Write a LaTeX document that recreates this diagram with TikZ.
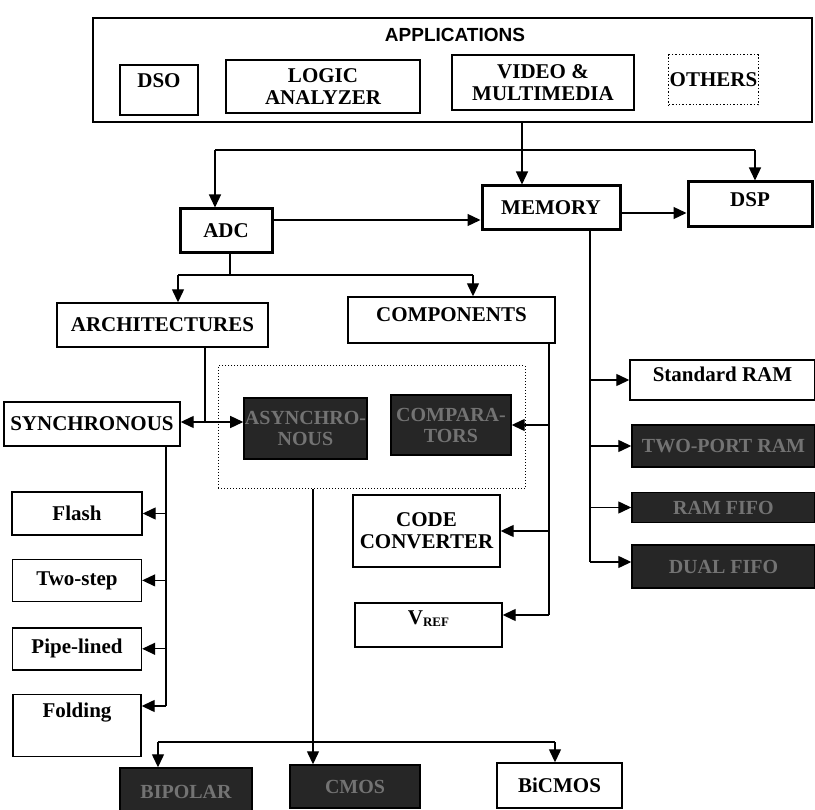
\documentclass[tikz,border=0pt]{standalone}
\usepackage{fontspec}
\setmainfont{Liberation Serif}
\newfontfamily\headfont{Liberation Sans}
\usetikzlibrary{positioning, arrows.meta}
\tikzset{
    box_style/.style={
        rectangle,            % plain box
        draw=black,
        line width=1.4pt,
        fill=white,
        align=center,
        inner sep=1pt,
        font=\bfseries\fontsize{21}{22}\selectfont
    },
    heavy_box/.style={
        box_style,
        line width=3pt        % ADC, MEMORY, DSP
    },
    dark_box/.style={
        box_style,
        fill=black!85,
        text=black!55,
        font=\bfseries\fontsize{20}{21}\selectfont
    },
    line_style/.style={
        line width=1.3pt
    },
    arrow_style/.style={
        -{Triangle[length=13pt,width=12pt]},
        line width=1.3pt
    }
}

\begin{document}
\begin{tikzpicture}[x=1pt, y=-1pt]
    \useasboundingbox (0,0) rectangle (815,810);

    % 1. applications
    \node[box_style, line width=2.5pt, minimum width=719pt, minimum height=104pt] (app) at (452.5,70) {};
    \node[font=\headfont\bfseries\fontsize{19}{21}\selectfont] (apptitle) at (455,35) {APPLICATIONS};
    \node[box_style, minimum width=78pt, minimum height=50pt, text depth=18pt] (dso) at (159,90) {DSO};
    \node[box_style, minimum width=194pt, minimum height=53pt] (logic) at (323,86.5) {LOGIC\\ANALYZER};
    \node[box_style, minimum width=182pt, minimum height=55pt] (video) at (543,82.5) {VIDEO \&\\MULTIMEDIA};
    \node[box_style, dotted, line width=1pt, minimum width=87pt, minimum height=50pt] (others) at (713.5,80) {OTHERS};

    % 2. main blocks
    \node[heavy_box, minimum width=92pt, minimum height=44pt] (adc) at (226,231) {ADC};
    \node[heavy_box, minimum width=138pt, minimum height=44pt] (mem) at (551,208) {MEMORY};
    \node[heavy_box, minimum width=124pt, minimum height=45pt, text depth=10pt] (dsp) at (750,204.5) {DSP};

    % 3. adc branches
    \node[box_style, minimum width=211pt, minimum height=44pt] (arch) at (162.5,325) {ARCHITECTURES};
    \node[box_style, minimum width=207pt, minimum height=46pt, text depth=10pt] (comp) at (451.5,320) {COMPONENTS};
    \node[box_style, minimum width=176pt, minimum height=44pt] (sync) at (92,424) {SYNCHRONOUS};
    \node[draw=black, dotted, line width=1pt, minimum width=307pt, minimum height=123pt] (grp) at (371.5,427.5) {};
    \node[dark_box, minimum width=121pt, minimum height=61pt] (async) at (305.5,428.5) {ASYNCHRO-\\NOUS};
    \node[dark_box, minimum width=120pt, minimum height=60pt] (cmpr) at (451,425) {COMPARA-\\TORS};
    \node[box_style, minimum width=147pt, minimum height=72pt] (conv) at (426.5,531) {CODE\\CONVERTER};
    \node[box_style, minimum width=147pt, minimum height=44pt, text depth=14pt] (vref) at (428.5,625) {V{\fontsize{13}{13}\selectfont\raisebox{-2pt}{REF}}};

    % 4. synchronous types
    \node[box_style, minimum width=130pt, minimum height=43pt] (flash) at (77,513.5) {Flash};
    \node[box_style, minimum width=129pt, minimum height=42pt, below=23pt of flash] (twostep) {Two-step};
    \node[box_style, minimum width=129pt, minimum height=42pt, below=25pt of twostep] (pipe) {Pipe-lined};
    \node[box_style, minimum width=128pt, minimum height=62pt, text depth=30pt, below=23pt of pipe] (fold) {Folding};

    % 5. memory types
    \node[box_style, minimum width=185pt, minimum height=40pt, text depth=12pt] (sram) at (722.5,380) {Standard RAM};
    \node[dark_box, minimum width=183pt, minimum height=42pt] (tpram) at (723.5,446) {TWO-PORT RAM};
    \node[dark_box, minimum width=183pt, minimum height=30pt] (rfifo) at (723.5,507.5) {RAM FIFO};
    \node[dark_box, minimum width=183pt, minimum height=43pt] (dfifo) at (723.5,566.5) {DUAL FIFO};

    % 6. technologies
    \node[dark_box, minimum width=132pt, minimum height=47pt] (bip) at (186,791.5) {BIPOLAR};
    \node[dark_box, minimum width=130pt, minimum height=43pt] (cmos) at (355,786.5) {CMOS};
    \node[box_style, minimum width=125pt, minimum height=45pt] (bicmos) at (559.5,785.5) {BiCMOS};

    % 7. connectors
    \coordinate (j1) at (522,150);
    \coordinate (j1l) at (215,150);
    \coordinate (j1r) at (755,150);
    \draw[line_style] (app.south -| j1) -- (j1);
    \draw[line_style] (j1l) -- (j1r);
    \draw[arrow_style] (j1l) -- (j1l |- adc.north);
    \draw[arrow_style] (j1) -- (j1 |- mem.north);
    \draw[arrow_style] (j1r) -- (j1r |- dsp.north);

    \coordinate (a1) at (0,220);
    \coordinate (a2) at (0,213);
    \draw[arrow_style] (adc.east |- a1) -- (mem.west |- a1);
    \draw[arrow_style] (mem.east |- a2) -- (dsp.west |- a2);

    \coordinate (j2) at (230,275);
    \coordinate (j2l) at (178,275);
    \coordinate (j2r) at (473,275);
    \draw[line_style] (adc.south -| j2) -- (j2);
    \draw[line_style] (j2l) -- (j2r);
    \draw[arrow_style] (j2l) -- (j2l |- arch.north);
    \draw[arrow_style] (j2r) -- (j2r |- comp.north);

    \coordinate (j3) at (205,422);
    \draw[line_style] (arch.south -| j3) -- (j3);
    \draw[arrow_style] (j3) -- (sync.east |- j3);
    \draw[arrow_style] (j3) -- (async.west |- j3);

    \coordinate (c4) at (549,615);
    \draw[line_style] (comp.south -| c4) -- (c4);
    \draw[arrow_style] (c4 |- cmpr.east) -- (cmpr.east);
    \draw[arrow_style] (c4 |- conv.east) -- (conv.east);
    \draw[arrow_style] (c4) -- (vref.east |- c4);

    \coordinate (c5) at (166,706);
    \draw[line_style] (sync.south -| c5) -- (c5);
    \draw[arrow_style] (c5 |- flash.east) -- (flash.east);
    \draw[arrow_style] (c5 |- twostep.east) -- (twostep.east);
    \draw[arrow_style] (c5 |- pipe.east) -- (pipe.east);
    \draw[arrow_style] (c5) -- (fold.east |- c5);

    \coordinate (c6) at (590,562);
    \draw[line_style] (mem.south -| c6) -- (c6);
    \draw[arrow_style] (c6 |- sram.west) -- (sram.west);
    \draw[arrow_style] (c6 |- tpram.west) -- (tpram.west);
    \draw[arrow_style] (c6 |- rfifo.west) -- (rfifo.west);
    \draw[arrow_style] (c6) -- (dfifo.west |- c6);

    \coordinate (c7) at (313,742);
    \coordinate (c7l) at (158,742);
    \coordinate (c7r) at (555,742);
    \draw[line_style] (grp.south -| c7) -- (c7);
    \draw[line_style] (c7l) -- (c7r);
    \draw[arrow_style] (c7) -- (c7 |- cmos.north);
    \draw[arrow_style] (c7l) -- (c7l |- bip.north);
    \draw[arrow_style] (c7r) -- (c7r |- bicmos.north);
\end{tikzpicture}
\end{document}
